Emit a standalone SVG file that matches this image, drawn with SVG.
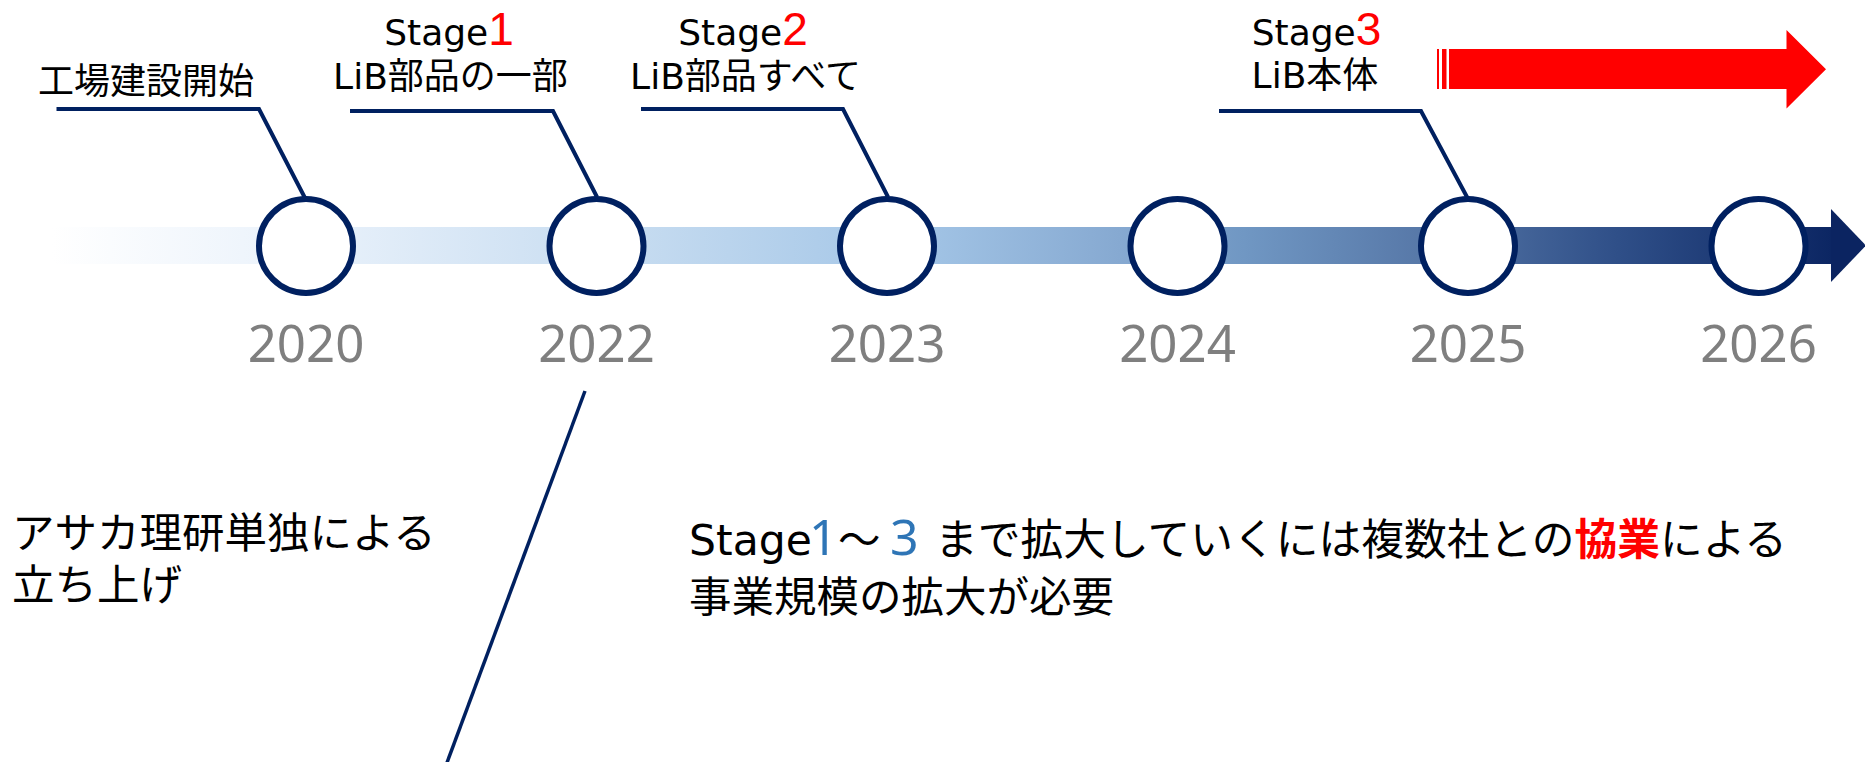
<svg xmlns="http://www.w3.org/2000/svg" width="1865" height="762" viewBox="0 0 1865 762">
  <style>
    .ring { fill: #FFFFFF; stroke: #002060; stroke-width: 6; }
    .conn { fill: none; stroke: #002060; stroke-width: 4; stroke-linejoin: miter; }
    .year { font-family: "Noto Sans", "Open Sans", sans-serif; font-size: 51px; fill: #7F7F7F; text-anchor: middle; }
    .lbl { font-family: "DejaVu Sans", "Noto Sans CJK JP", sans-serif; font-size: 36px; fill: #000000; text-anchor: middle; }
    .big { font-family: "Liberation Sans", sans-serif; font-size: 46px; fill: #FF0000; }
    .body { font-family: "DejaVu Sans", "Noto Sans CJK JP", sans-serif; font-size: 42.5px; fill: #000000; }
    .blue { font-family: "Noto Sans", sans-serif; font-size: 50px; fill: #2E75B6; }
    .wide { font-size: 42.75px; }
    .red { fill: #FF0000; font-weight: bold; }
  </style>
  <defs>
    <linearGradient id="barGrad" gradientUnits="userSpaceOnUse" x1="52" y1="0" x2="1832" y2="0">
      <stop offset="0" stop-color="#FFFFFF"/>
      <stop offset="0.14" stop-color="#EAF2FB"/>
      <stop offset="0.33" stop-color="#C5DBF0"/>
      <stop offset="0.48" stop-color="#A4C6E7"/>
      <stop offset="0.60" stop-color="#86A9D1"/>
      <stop offset="0.67" stop-color="#7097C3"/>
      <stop offset="0.77" stop-color="#5778A8"/>
      <stop offset="0.88" stop-color="#2F4F88"/>
      <stop offset="1" stop-color="#0C2663"/>
    </linearGradient>
  </defs>

  <g id="timeline-bar">
    <rect x="52" y="227" width="1780" height="37" fill="url(#barGrad)"/>
    <polygon points="1831,209 1866,245.5 1831,282" fill="#0B2461"/>
  </g>

  <g id="stage-arrow">
    <rect x="1437" y="49" width="2" height="40" fill="#FF0000"/>
    <rect x="1442" y="49" width="4.5" height="40" fill="#FF0000"/>
    <polygon points="1449,49 1786.5,49 1786.5,30 1826,69.3 1786.5,108.5 1786.5,89 1449,89" fill="#FF0000"/>
  </g>

  <g id="connectors">
    <polyline class="conn" points="56.5,109 259,109 304.5,197"/>
    <polyline class="conn" points="350,111 553,111 597,197"/>
    <polyline class="conn" points="641,109 843,109 888,197"/>
    <polyline class="conn" points="1219,111 1421,111 1467,197"/>
    <line class="conn" x1="585" y1="391" x2="445" y2="768" style="stroke-width:3.5"/>
  </g>

  <g id="node-2020">
    <circle class="ring" cx="306" cy="246" r="47"/>
    <text class="year" x="306" y="362">2020</text>
  </g>
  <g id="node-2022">
    <circle class="ring" cx="596.5" cy="246" r="47"/>
    <text class="year" x="596.5" y="362">2022</text>
  </g>
  <g id="node-2023">
    <circle class="ring" cx="887" cy="246" r="47"/>
    <text class="year" x="887" y="362">2023</text>
  </g>
  <g id="node-2024">
    <circle class="ring" cx="1177.5" cy="246" r="47"/>
    <text class="year" x="1177.5" y="362">2024</text>
  </g>
  <g id="node-2025">
    <circle class="ring" cx="1468" cy="246" r="47"/>
    <text class="year" x="1468" y="362">2025</text>
  </g>
  <g id="node-2026">
    <circle class="ring" cx="1758.5" cy="246" r="47"/>
    <text class="year" x="1758.5" y="362">2026</text>
  </g>

  <g id="label-start">
    <text class="lbl" x="146" y="94">工場建設開始</text>
  </g>
  <g id="label-stage1">
    <text class="lbl" x="449" y="45">Stage<tspan class="big">1</tspan></text>
    <text class="lbl" x="450.5" y="89">LiB部品の一部</text>
  </g>
  <g id="label-stage2">
    <text class="lbl" x="743" y="45">Stage<tspan class="big">2</tspan></text>
    <text class="lbl" x="745.5" y="89">LiB部品すべて</text>
  </g>
  <g id="label-stage3">
    <text class="lbl" x="1316.5" y="45">Stage<tspan class="big">3</tspan></text>
    <text class="lbl" x="1315" y="88">LiB本体</text>
  </g>

  <g id="note-left">
    <text class="body" x="12" y="548">アサカ理研単独による</text>
    <text class="body" x="12" y="600">立ち上げ</text>
  </g>

  <g id="note-right">
    <text class="body" x="689" y="555">Stage<tspan class="blue" x="809">1</tspan><tspan x="838">～</tspan><tspan class="blue" x="890">3</tspan><tspan class="wide" x="935">まで拡大していくには複数社との</tspan><tspan class="wide red">協業</tspan><tspan class="wide">による</tspan></text>
    <text class="body" x="689" y="612">事業規模の拡大が必要</text>
  </g>
</svg>
